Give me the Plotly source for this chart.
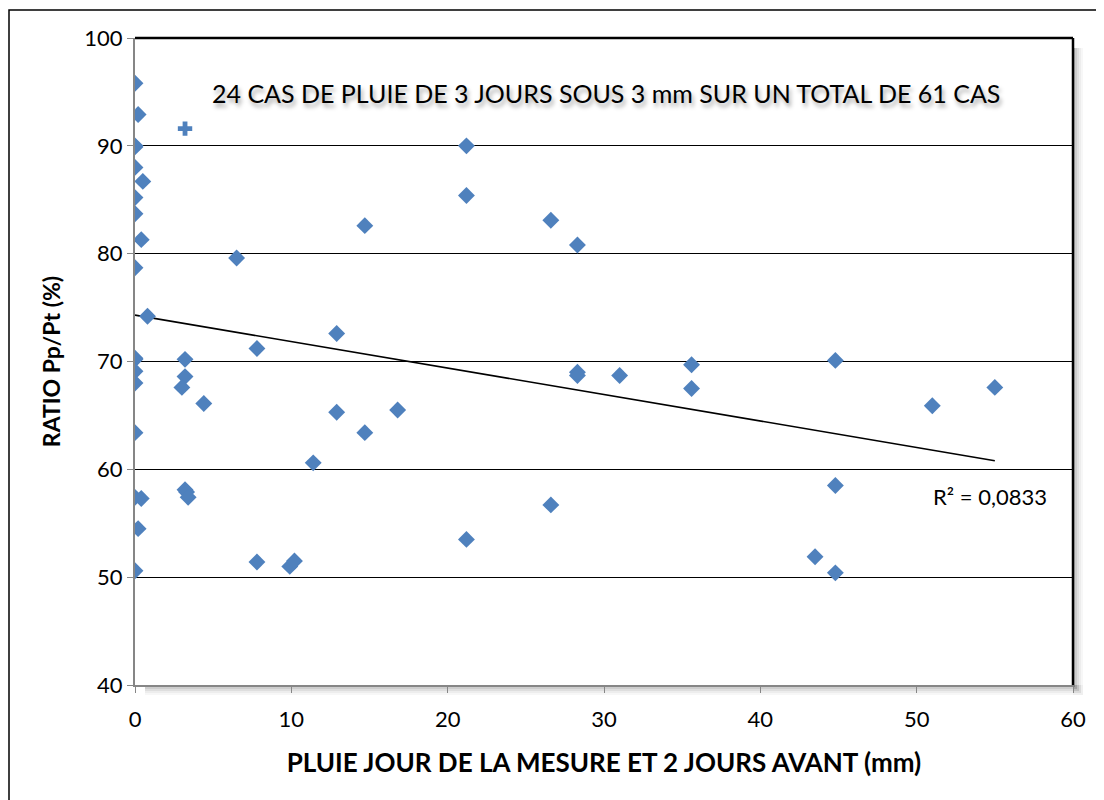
import plotly.graph_objects as go

# Data
rain_mm = [0, 0.2, 0, 0, 0, 0.5, 0, 0, 0.4, 0, 0.8, 0, 0, 0, 0, 0, 0, 0.4, 0.2, 0,
           3.2, 3.2, 3.0, 4.4, 3.2, 3.3, 3.4, 6.5, 7.8, 7.8, 9.9, 10.2, 11.4,
           12.9, 12.9, 14.7, 14.7, 16.8, 21.2, 21.2, 21.2, 26.6, 26.6, 28.3,
           28.3, 28.3, 31.0, 35.6, 35.6, 44.8, 43.5, 44.8, 44.8, 51.0, 55.0]
ratio_pct = [95.8, 92.9, 89.9, 90.0, 88.0, 86.7, 85.2, 83.7, 81.3, 78.7, 74.2, 70.3, 70.2,
             69.1, 68.0, 63.4, 57.4, 57.3, 54.5, 50.6,
             70.2, 68.6, 67.6, 66.1, 58.1, 57.9, 57.4, 79.6, 71.2, 51.4, 51.0, 51.5, 60.6,
             72.6, 65.3, 82.6, 63.4, 65.5, 90.0, 85.4, 53.5, 83.1, 56.7, 80.8,
             69.0, 68.7, 68.7, 69.7, 67.5, 70.1, 51.9, 58.5, 50.4, 65.9, 67.6]
cross_x = [3.2]
cross_y = [91.6]
trend_x = [0, 55]
trend_y = [74.3, 60.8]
r2_label = "R² = 0,0833"
title_text = "24 CAS DE PLUIE DE 3 JOURS SOUS 3 mm SUR UN TOTAL DE 61 CAS"
x_ticks = [0, 10, 20, 30, 40, 50, 60]
y_ticks = [40, 50, 60, 70, 80, 90, 100]

W, H = 1104, 800
OFF = 8  # page body margin
# desired plot area in page pixels: x 135..1073, y 38..685
L, T = 135 - OFF, 38 - OFF
R = W - (1073 - OFF)
B = H - (685 - OFF)
PW, PH = W - L - R, H - T - B

def px_x(p):  # page pixel -> paper x
    return (p - OFF - L) / PW

def px_y(p):  # page pixel -> paper y
    return (H - B - (p - OFF)) / PH

FONT = "Lato"
BLUE = "#4F81BD"

fig = go.Figure()
fig.add_trace(go.Scatter(x=trend_x, y=trend_y, mode="lines",
                         line=dict(color="black", width=1.6), hoverinfo="skip"))
fig.add_trace(go.Scatter(x=rain_mm, y=ratio_pct, mode="markers",
                         marker=dict(symbol="diamond", size=13, color=BLUE, line=dict(width=0))))
fig.add_trace(go.Scatter(x=cross_x, y=cross_y, mode="markers",
                         marker=dict(symbol="cross", size=12, color=BLUE, line=dict(width=0))))

shapes = []
# outer chart border
shapes.append(dict(type="rect", xref="paper", yref="paper",
                   x0=px_x(9), x1=px_x(1130), y0=px_y(10), y1=px_y(830),
                   line=dict(color="black", width=1.5), fillcolor="rgba(0,0,0,0)", layer="below"))
# plot area shadow (right and bottom)
for i, op in enumerate([0.10, 0.08, 0.06, 0.04, 0.03]):
    off = 2 + i * 2
    shapes.append(dict(type="rect", xref="paper", yref="paper",
                       x0=1.0, x1=px_x(1073 + off), y0=px_y(38 + 10), y1=px_y(685 + off),
                       line=dict(width=0), fillcolor=f"rgba(0,0,0,{op})", layer="below"))
    shapes.append(dict(type="rect", xref="paper", yref="paper",
                       x0=px_x(135 + 10), x1=px_x(1073 + off), y0=px_y(685 + off), y1=0.0,
                       line=dict(width=0), fillcolor=f"rgba(0,0,0,{op})", layer="below"))
# plot area top and right border
shapes.append(dict(type="line", xref="paper", yref="paper", x0=0, x1=1, y0=1, y1=1,
                   line=dict(color="black", width=2.5), layer="above"))
shapes.append(dict(type="line", xref="paper", yref="paper", x0=1, x1=1, y0=0, y1=1,
                   line=dict(color="black", width=2.5), layer="above"))

fig.update_layout(
    width=W, height=H,
    margin=dict(l=L, r=R, t=T, b=B),
    paper_bgcolor="white", plot_bgcolor="rgba(0,0,0,0)",
    showlegend=False,
    font=dict(family=FONT, color="black", size=22),
    shapes=shapes,
    annotations=[
        dict(text=title_text, xref="paper", yref="paper", x=px_x(606), y=px_y(93),
             xanchor="center", yanchor="middle", showarrow=False,
             font=dict(family=FONT, size=25, color="black",
                       shadow="2px 4px 4px rgba(0,0,0,0.35)")),
        dict(text=r2_label, xref="paper", yref="paper", x=px_x(990), y=px_y(497),
             xanchor="center", yanchor="middle", showarrow=False,
             font=dict(family=FONT, size=22, color="black")),
    ],
)
fig.update_xaxes(range=[0, 60], tickvals=x_ticks, showgrid=False, zeroline=False,
                 showline=True, linecolor="#868686", linewidth=2,
                 ticks="outside", ticklen=6, tickcolor="#868686", tickwidth=1,
                 tickfont=dict(family=FONT, size=22), ticklabelstandoff=8,
                 title=dict(text="<b>PLUIE JOUR DE LA MESURE ET 2 JOURS AVANT (mm)</b>",
                            font=dict(family=FONT, size=26), standoff=22))
fig.update_yaxes(range=[40, 100], tickvals=y_ticks, showgrid=True, gridcolor="black",
                 gridwidth=1, zeroline=False,
                 showline=True, linecolor="#868686", linewidth=2,
                 ticks="outside", ticklen=6, tickcolor="#868686", tickwidth=1,
                 tickfont=dict(family=FONT, size=22),
                 title=dict(text="<b>RATIO Pp/Pt (%)</b>",
                            font=dict(family=FONT, size=23), standoff=17))

fig.write_html("out.html")
